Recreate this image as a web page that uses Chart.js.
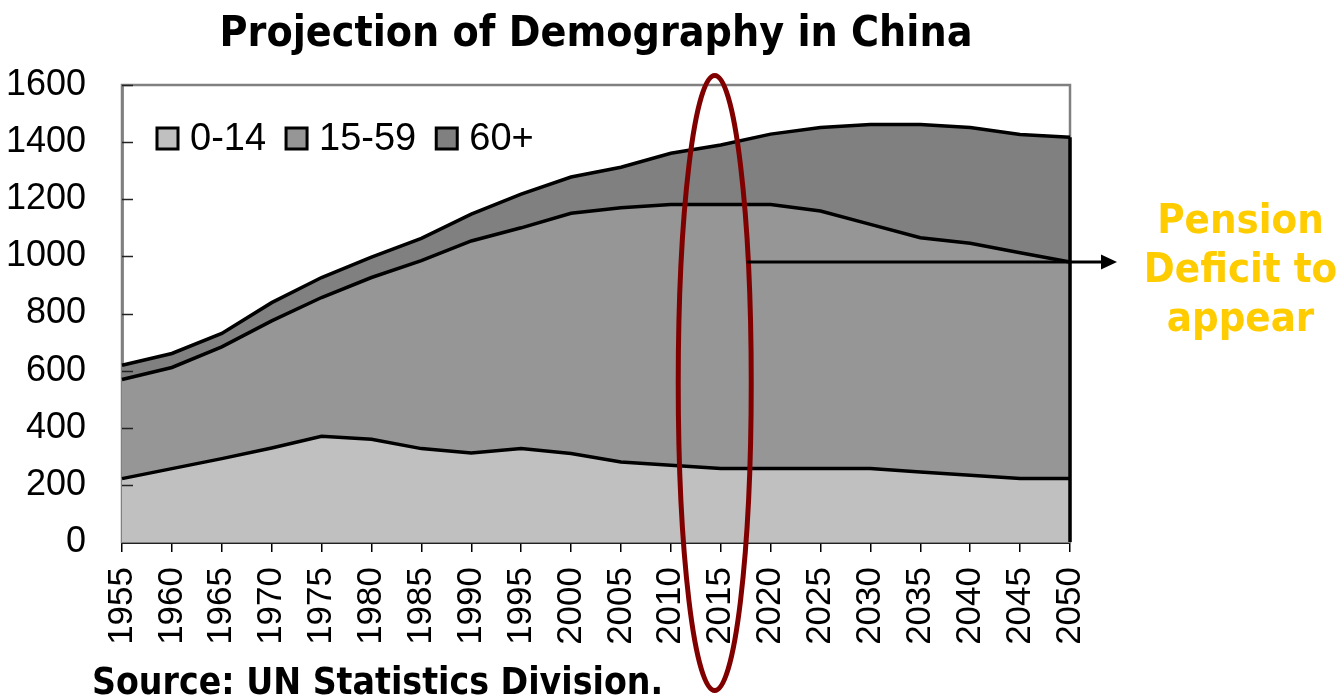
<!DOCTYPE html>
<html>
<head>
<meta charset="utf-8">
<script src="https://cdn.jsdelivr.net/npm/chart.js@4.4.1/dist/chart.umd.min.js"></script>
<style>
  html, body { margin: 0; padding: 0; background: #ffffff; overflow: hidden; }
  canvas { display: block; }
</style>
</head>
<body>
<canvas id="chart" width="1341" height="696" style="width:1341px;height:696px"></canvas>
<script>
// Population of China by age group, millions (UN estimates and projections)
const years = ['1955', '1960', '1965', '1970', '1975', '1980', '1985', '1990', '1995', '2000',
               '2005', '2010', '2015', '2020', '2025', '2030', '2035', '2040', '2045', '2050'];
const age0to14  = [222, 257, 292, 329, 370, 360, 327, 312, 327, 310, 280, 269, 257, 257, 257, 257, 245, 234, 222, 222];
const age15to59 = [347, 354, 391, 445, 486, 566, 658, 742, 773, 841, 890, 913, 925, 925, 902, 855, 820, 812, 791, 758];
const age60plus = [ 50,  49,  47,  64,  70,  71,  78,  94, 118, 127, 142, 179, 208, 246, 292, 350, 397, 405, 414, 437];

const seriesNames  = ['0-14', '15-59', '60+'];
const seriesFills  = ['#c0c0c0', '#969696', '#808080'];
const yMin = 0, yMax = 1600, yStep = 200;

const chartTitle   = 'Projection of Demography in China';
const sourceNote   = 'Source: UN Statistics Division.';
const calloutLines = ['Pension', 'Deficit to', 'appear'];
const markedYear   = '2015';

const HEAVY = '"DejaVu Sans Condensed", "DejaVu Sans", Verdana, sans-serif';
const PLAIN = '"Liberation Sans", Arial, Helvetica, sans-serif';

const seriesValues = [age0to14, age15to59, age60plus];

// Extra drawing: plot frame, inner value-axis ticks, legend, titles and the callout
const decorations = {
  id: 'decorations',
  beforeDatasetsDraw(chart) {
    const { ctx, chartArea: a } = chart;
    ctx.save();
    ctx.strokeStyle = '#808080';
    ctx.lineWidth = 2.5;
    ctx.strokeRect(a.left, a.top, a.right - a.left, a.bottom - a.top);
    ctx.restore();
  },
  afterDatasetsDraw(chart) {
    const { ctx, chartArea: a, scales: { x, y } } = chart;
    ctx.save();

    // closing edge of the stacked areas at the last year
    const last = years.length - 1;
    const total = age0to14[last] + age15to59[last] + age60plus[last];
    const xe = x.getPixelForValue(last);
    ctx.strokeStyle = '#000';
    ctx.lineWidth = 3.5;
    ctx.beginPath();
    ctx.moveTo(xe, y.getPixelForValue(0));
    ctx.lineTo(xe, y.getPixelForValue(total));
    ctx.stroke();

    // tick marks pointing into the plot on the value axis
    ctx.strokeStyle = '#222';
    ctx.lineWidth = 1.5;
    for (let v = yMin + yStep; v <= yMax; v += yStep) {
      const py = Math.round(y.getPixelForValue(v)) + 0.5;
      ctx.beginPath();
      ctx.moveTo(a.left, py);
      ctx.lineTo(a.left + 11, py);
      ctx.stroke();
    }

    // legend inside the plot area
    ctx.font = '38px ' + PLAIN;
    ctx.textBaseline = 'middle';
    ctx.textAlign = 'left';
    let lx = a.left + 35;
    const ly = a.top + 43;
    const box = 21;
    seriesNames.forEach((name, i) => {
      ctx.fillStyle = seriesFills[i];
      ctx.fillRect(lx, ly, box, box);
      ctx.strokeStyle = '#000';
      ctx.lineWidth = 3;
      ctx.strokeRect(lx, ly, box, box);
      ctx.fillStyle = '#000';
      const tx = lx + box + 12;
      ctx.fillText(name, tx, ly + box / 2 + 1);
      lx = tx + ctx.measureText(name).width + 20;
    });
    ctx.restore();
  },
  afterDraw(chart) {
    const { ctx, chartArea: a, scales: { x, y } } = chart;
    const W = chart.width;
    ctx.save();

    // heading and source line
    ctx.fillStyle = '#000';
    ctx.textAlign = 'center';
    ctx.textBaseline = 'alphabetic';
    ctx.font = 'bold 42.5px ' + HEAVY;
    ctx.fillText(chartTitle, 596, 46);
    ctx.textAlign = 'left';
    ctx.font = 'bold 37px ' + HEAVY;
    ctx.fillText(sourceNote, 92, 694);

    // ring around the marked year
    const cx = x.getPixelForValue(years.indexOf(markedYear)) - 6;
    ctx.strokeStyle = '#800000';
    ctx.lineWidth = 5;
    ctx.beginPath();
    ctx.ellipse(cx, 383, 36.5, 307.5, 0, 0, Math.PI * 2);
    ctx.stroke();

    // arrow at the working-age level of the final year
    const last = years.length - 1;
    const ay = Math.round(y.getPixelForValue(age0to14[last] + age15to59[last]));
    const ax0 = cx + 32;
    const tip = a.right + 47;
    ctx.strokeStyle = '#000';
    ctx.fillStyle = '#000';
    ctx.lineWidth = 3;
    ctx.beginPath();
    ctx.moveTo(ax0, ay);
    ctx.lineTo(tip - 12, ay);
    ctx.stroke();
    ctx.beginPath();
    ctx.moveTo(tip, ay);
    ctx.lineTo(tip - 16, ay - 7.5);
    ctx.lineTo(tip - 16, ay + 7.5);
    ctx.closePath();
    ctx.fill();

    // callout text
    ctx.fillStyle = '#ffcc00';
    ctx.textAlign = 'center';
    ctx.font = 'bold 41.5px ' + HEAVY;
    const ccx = (a.right + W) / 2 + 35;
    [233, 282, 331].forEach((by, i) => ctx.fillText(calloutLines[i], ccx, by));
    ctx.restore();
  }
};

new Chart(document.getElementById('chart'), {
  type: 'line',
  data: {
    labels: years,
    datasets: seriesValues.map((vals, i) => ({
      label: seriesNames[i],
      data: vals,
      backgroundColor: seriesFills[i],
      borderColor: '#000000',
      borderWidth: 3.5,
      fill: i === 0 ? 'origin' : '-1',
      pointRadius: 0,
      pointHoverRadius: 0,
      tension: 0
    }))
  },
  options: {
    responsive: false,
    devicePixelRatio: 1,
    animation: false,
    events: [],
    layout: { padding: { top: 85, left: 0, right: 271, bottom: 0 } },
    plugins: {
      legend: { display: false },
      title: { display: false },
      tooltip: { enabled: false }
    },
    scales: {
      x: {
        type: 'category',
        offset: false,
        z: 1,
        afterFit(scale) { scale.height = 154; },
        grid: { display: true, drawOnChartArea: false, drawTicks: true, tickLength: 10, color: '#000', lineWidth: 1.5 },
        border: { display: true, color: '#000', width: 3 },
        ticks: {
          autoSkip: false,
          maxRotation: 90,
          minRotation: 90,
          padding: 15,
          color: '#000',
          font: { family: PLAIN, size: 35 }
        }
      },
      y: {
        stacked: true,
        min: yMin,
        max: yMax,
        z: 1,
        afterFit(scale) { scale.width = 122; },
        grid: { display: false },
        border: { display: true, color: '#222', width: 2.5 },
        ticks: {
          stepSize: yStep,
          padding: 28,
          color: '#000',
          font: { family: PLAIN, size: 36 },
          callback: (v) => String(v)
        }
      }
    }
  },
  plugins: [decorations]
});
</script>
</body>
</html>
